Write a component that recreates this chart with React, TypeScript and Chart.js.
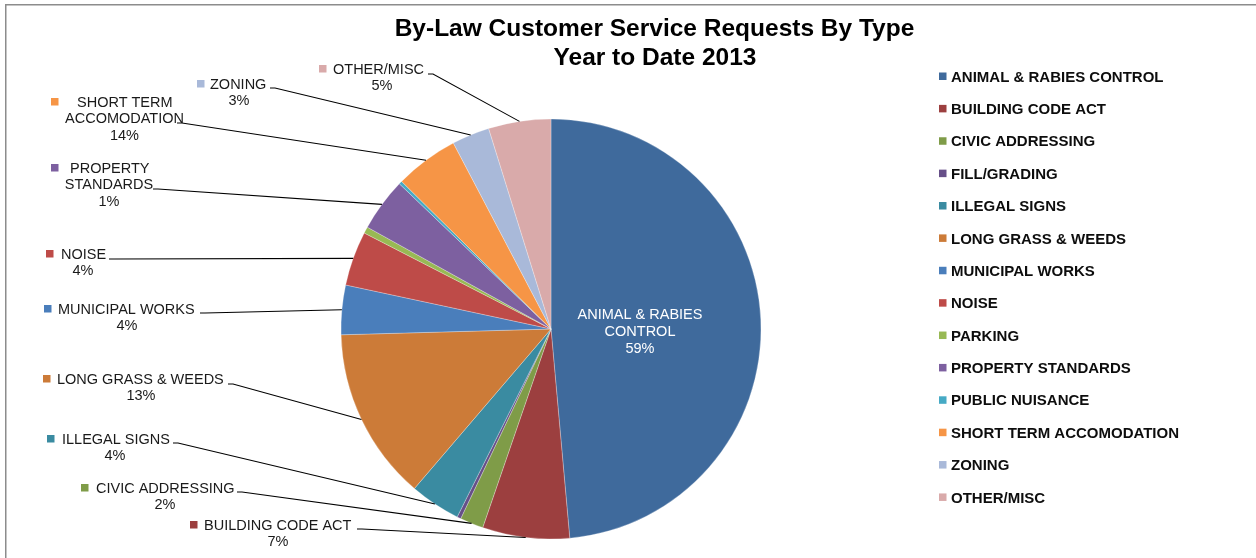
import React, { useEffect, useRef } from "react";
import { Chart, registerables } from "chart.js";

Chart.register(...registerables);

const titleLines = ["By-Law Customer Service Requests By Type", "Year to Date 2013"];

const categories = [
  "ANIMAL & RABIES CONTROL",
  "BUILDING CODE ACT",
  "CIVIC ADDRESSING",
  "FILL/GRADING",
  "ILLEGAL SIGNS",
  "LONG GRASS & WEEDS",
  "MUNICIPAL WORKS",
  "NOISE",
  "PARKING",
  "PROPERTY STANDARDS",
  "PUBLIC NUISANCE",
  "SHORT TERM ACCOMODATION",
  "ZONING",
  "OTHER/MISC",
];

const requestShares = [48.6, 6.7, 1.8, 0.3, 3.9, 13.3, 3.8, 4.2, 0.5, 4.1, 0.25, 4.9, 2.9, 4.8];

const labelPercents = ["59%", "7%", "2%", "", "4%", "13%", "4%", "4%", "", "1%", "", "14%", "3%", "5%"];

const labelLines: (string[] | null)[] = [
  ["ANIMAL & RABIES", "CONTROL"],
  ["BUILDING CODE ACT"],
  ["CIVIC ADDRESSING"],
  null,
  ["ILLEGAL SIGNS"],
  ["LONG GRASS & WEEDS"],
  ["MUNICIPAL WORKS"],
  ["NOISE"],
  null,
  ["PROPERTY", "STANDARDS"],
  null,
  ["SHORT TERM", "ACCOMODATION"],
  ["ZONING"],
  ["OTHER/MISC"],
];

const sliceColors = [
  "#3F6A9C",
  "#9C3F3F",
  "#7F9C48",
  "#664F88",
  "#3A8BA1",
  "#CC7B38",
  "#4A7EBB",
  "#BE4B48",
  "#98B954",
  "#7D60A0",
  "#46AAC5",
  "#F69546",
  "#A9B9D9",
  "#D9AAAA",
];

// Layout of the outside data labels (marker x, first-line text x, first line y, block centre x, leader start)
type LabelPos = { mx: number; tx: number; y: number; cx: number; sx: number; sy: number };
const labelLayout: Record<number, LabelPos> = {
  1: { mx: 190, tx: 204, y: 525, cx: 278, sx: 357, sy: 529 },
  2: { mx: 81, tx: 96, y: 488, cx: 165, sx: 237, sy: 492 },
  4: { mx: 47, tx: 62, y: 439, cx: 115, sx: 173, sy: 443 },
  5: { mx: 43, tx: 57, y: 379, cx: 141, sx: 228, sy: 384 },
  6: { mx: 44, tx: 58, y: 309, cx: 127, sx: 200, sy: 313 },
  7: { mx: 46, tx: 61, y: 254, cx: 83, sx: 109, sy: 259 },
  9: { mx: 51, tx: 70, y: 168, cx: 109, sx: 153, sy: 189 },
  11: { mx: 51, tx: 77, y: 102, cx: 124.5, sx: 177, sy: 123 },
  12: { mx: 197, tx: 210, y: 84, cx: 239, sx: 270, sy: 88 },
  13: { mx: 319, tx: 333, y: 69, cx: 382, sx: 428, sy: 74 },
};

const FONT = "'Liberation Sans', Arial, sans-serif";

const decorPlugin = {
  id: "decor",
  afterDraw(chart: any) {
    const ctx: CanvasRenderingContext2D = chart.ctx;
    ctx.save();

    // frame
    ctx.strokeStyle = "#8c8c8c";
    ctx.lineWidth = 1.5;
    ctx.beginPath();
    ctx.moveTo(1256, 4.75);
    ctx.lineTo(5.75, 4.75);
    ctx.lineTo(5.75, 558);
    ctx.stroke();

    // title
    ctx.fillStyle = "#000";
    ctx.textAlign = "center";
    ctx.textBaseline = "middle";
    ctx.font = `bold 24.5px ${FONT}`;
    ctx.fillText(titleLines[0], 654.5, 29);
    ctx.fillText(titleLines[1], 655, 58);

    // legend
    ctx.textAlign = "left";
    ctx.font = `bold 15px ${FONT}`;
    categories.forEach((c, i) => {
      const y = 77 + i * 32.38;
      ctx.fillStyle = sliceColors[i];
      ctx.fillRect(939, y - 4.5, 7.5, 7.5);
      ctx.fillStyle = "#0d0d0d";
      ctx.fillText(c, 951, y + 0.5);
    });

    const meta = chart.getDatasetMeta(0);
    ctx.font = `14.5px ${FONT}`;

    // inside label for first slice
    {
      const lines = labelLines[0] as string[];
      ctx.fillStyle = "#ffffff";
      ctx.textAlign = "center";
      ctx.fillText(lines[0], 640, 315);
      ctx.fillText(lines[1], 640, 332);
      ctx.fillText(labelPercents[0], 640, 349);
    }

    // outside labels with leader lines
    Object.keys(labelLayout).forEach((k) => {
      const i = Number(k);
      const L = labelLayout[i];
      const lines = labelLines[i] as string[];
      const arc = meta.data[i].getProps(["x", "y", "startAngle", "endAngle", "outerRadius"], true);
      const mid = (arc.startAngle + arc.endAngle) / 2;
      const px = arc.x + Math.cos(mid) * arc.outerRadius;
      const py = arc.y + Math.sin(mid) * arc.outerRadius;

      ctx.strokeStyle = "#000";
      ctx.lineWidth = 1.1;
      ctx.beginPath();
      ctx.moveTo(L.sx, L.sy);
      ctx.lineTo(L.sx + 5, L.sy);
      ctx.lineTo(px, py);
      ctx.stroke();

      ctx.fillStyle = sliceColors[i];
      ctx.fillRect(L.mx, L.y - 4, 7.5, 7.5);

      ctx.fillStyle = "#1a1a1a";
      ctx.textAlign = "left";
      ctx.fillText(lines[0], L.tx, L.y + 0.5);
      ctx.textAlign = "center";
      let y = L.y;
      for (let j = 1; j < lines.length; j++) {
        y += 16.8;
        ctx.fillText(lines[j], L.cx, y + 0.5);
      }
      y += 16.8;
      ctx.fillText(labelPercents[i], L.cx, y + 0.5);
    });

    ctx.restore();
  },
};

export default function App() {
  const canvasRef = useRef<HTMLCanvasElement | null>(null);

  useEffect(() => {
    document.body.style.margin = "0";
    const canvas = canvasRef.current;
    if (!canvas) return;
    const chart = new Chart(canvas, {
      type: "pie",
      data: {
        labels: categories,
        datasets: [
          {
            data: requestShares,
            backgroundColor: sliceColors,
            borderColor: "rgba(255,255,255,0.45)",
            borderWidth: 0.6,
          },
        ],
      },
      options: {
        responsive: false,
        animation: false,
        radius: 210,
        layout: { padding: { left: 341, right: 495, top: 119, bottom: 19 } },
        plugins: {
          legend: { display: false },
          title: { display: false },
          tooltip: { enabled: false },
        },
      } as any,
      plugins: [decorPlugin],
    });
    return () => chart.destroy();
  }, []);

  return (
    <div style={{ position: "absolute", left: 0, top: 0, width: 1256, height: 558, background: "#fff" }}>
      <canvas ref={canvasRef} width={1256} height={558} style={{ width: 1256, height: 558, display: "block" }} />
    </div>
  );
}
